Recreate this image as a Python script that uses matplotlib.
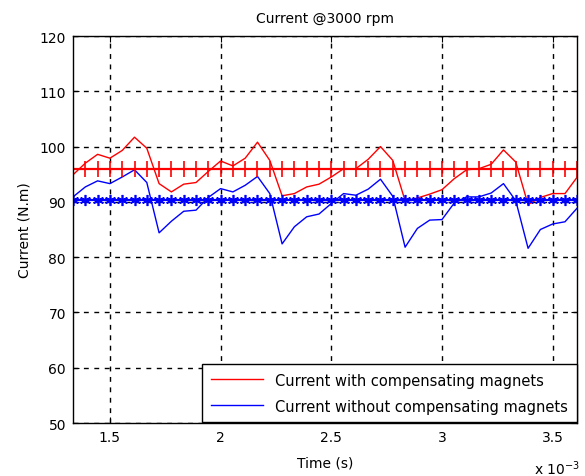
import numpy as np
import matplotlib.pyplot as plt
from matplotlib.ticker import FuncFormatter

# sample index k, time = k / 18000 s
sample_idx = list(range(24, 66))

current_with = [
    94.9, 97.0, 98.6, 97.9, 99.3, 101.7, 99.7, 93.3, 91.8, 93.2,
    93.5, 95.5, 97.4, 96.5, 97.9, 100.8, 97.5, 91.1, 91.5, 92.7,
    93.2, 94.5, 96.0, 96.0, 97.7, 100.0, 97.5, 90.2, 90.7, 91.4,
    92.2, 94.2, 95.8, 96.0, 96.8, 99.4, 97.2, 89.5, 90.8, 91.5,
    91.5, 94.5,
]

current_without = [
    90.9, 92.7, 93.8, 93.3, 94.5, 95.8, 93.5, 84.4, 86.5, 88.3,
    88.5, 90.8, 92.4, 91.8, 93.0, 94.6, 91.5, 82.4, 85.5, 87.3,
    87.8, 89.7, 91.5, 91.2, 92.3, 94.1, 91.0, 81.8, 85.2, 86.7,
    86.8, 89.8, 90.9, 90.9, 91.6, 93.3, 90.2, 81.6, 85.0, 86.0,
    86.4, 88.9,
]

mean_with = 96.0
mean_without = 90.3

x_ticks = [1.5e-3, 2.0e-3, 2.5e-3, 3.0e-3, 3.5e-3]
y_ticks = [50, 60, 70, 80, 90, 100, 110, 120]

plt.rcParams["font.family"] = ["DejaVu Sans"]
plt.rcParams["font.size"] = 10

t = np.array(sample_idx) / 18000.0

fig = plt.figure(figsize=(5.85, 4.77), dpi=100)
ax = fig.add_axes([0.1248, 0.1111, 0.862, 0.8113])

ax.plot(t, current_with, color="red", linewidth=1, label="Current with compensating magnets")
ax.plot(t, current_without, color="blue", linewidth=1, label="Current without compensating magnets")

ax.plot(t, np.full(len(t), mean_with), color="red", linewidth=1.6,
        marker="+", markersize=11, markeredgewidth=1.2)
ax.plot(t, np.full(len(t), mean_without), color="blue", linewidth=1.6,
        marker=(6, 2, 0), markersize=8, markeredgewidth=1.2)

ax.set_xlim(t[0], t[-1])
ax.set_ylim(50, 120)
ax.set_xticks(x_ticks)
ax.set_yticks(y_ticks)
ax.xaxis.set_major_formatter(FuncFormatter(lambda v, p: f"{v * 1e3:g}"))

ax.grid(True, color="black", linestyle=(0, (3.5, 4)), linewidth=1)
ax.tick_params(direction="in", top=True, right=True, length=4, pad=5)
for s in ax.spines.values():
    s.set_linewidth(1)

ax.set_title("Current @3000 rpm", fontsize=10, pad=10)
ax.set_xlabel("Time (s)", fontsize=10, labelpad=8)
ax.set_ylabel("Current (N.m)", fontsize=10, labelpad=6)

ax.text(0.915, -0.115, "x 10$^{-3}$", transform=ax.transAxes, fontsize=10,
        ha="left", va="center")

leg = ax.legend(loc="lower right", fancybox=False, framealpha=1,
                edgecolor="black", borderaxespad=0.05, handlelength=3.6,
                fontsize=10.5, borderpad=0.6, labelspacing=0.75)
leg.get_frame().set_linewidth(1)

fig.savefig("out.png", dpi=100)
